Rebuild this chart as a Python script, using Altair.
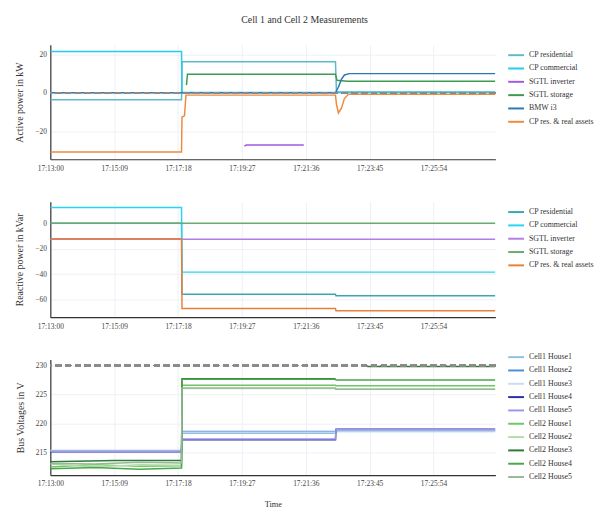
import altair as alt
import pandas as pd

# ---------------------------------------------------------------
# Time axis: seconds after 17:13:00
# ---------------------------------------------------------------
T_MAX = 899
X_TICKS = [0, 129, 258, 387, 516, 645, 774]

# ---------------------------------------------------------------
# Active power (kW)
# ---------------------------------------------------------------
P_NAMES = ["CP residential", "CP commercial", "SGTL inverter",
           "SGTL storage", "BMW i3", "CP res. & real assets"]
P_COLORS = ["#5fb9c9", "#25cbe6", "#a259e0", "#3d9b4f", "#2a7ab8", "#ee8a3e"]

p_cp_res_t = [0, 265, 266, 576, 578, 899]
p_cp_res_v = [-3.6, -3.6, 16.2, 16.2, 0.4, 0.4]
p_cp_com_t = [0, 265, 266, 899]
p_cp_com_v = [21.5, 21.5, 0.2, 0.2]
p_sgtl_inv_t = [392, 396, 512]
p_sgtl_inv_v = [-27.8, -27.2, -27.2]
p_sgtl_sto_t = [275, 277, 576, 579, 600, 899]
p_sgtl_sto_v = [4.0, 9.7, 9.7, 6.5, 6.0, 6.0]
p_bmw_t = [0, 576, 582, 588, 594, 604, 899]
p_bmw_v = [0.0, 0.0, 3.0, 7.0, 9.3, 10.0, 10.0]
p_cp_real_t = [0, 265, 266, 271, 274, 576, 578, 582, 588, 594, 602, 899]
p_cp_real_v = [-30.8, -30.8, -12.6, -12.0, -1.2, -1.2, -6.0, -10.5, -8.0, -3.0, -0.8, -0.8]

# ---------------------------------------------------------------
# Reactive power (kVar)
# ---------------------------------------------------------------
Q_NAMES = ["CP residential", "CP commercial", "SGTL inverter",
           "SGTL storage", "CP res. & real assets"]
Q_COLORS = ["#3aa6b4", "#2ad4f0", "#b07ee6", "#6aaa72", "#e8803a"]

q_cp_res_t = [0, 265, 266, 576, 577, 899]
q_cp_res_v = [0.0, 0.0, -55.9, -55.9, -57.2, -57.2]
q_cp_com_t = [0, 265, 266, 899]
q_cp_com_v = [12.5, 12.5, -38.5, -38.5]
q_sgtl_inv_t = [0, 899]
q_sgtl_inv_v = [-12.6, -12.6]
q_sgtl_sto_t = [0, 899]
q_sgtl_sto_v = [0.0, 0.0]
q_cp_real_t = [0, 265, 266, 576, 577, 899]
q_cp_real_v = [-12.2, -12.2, -67.1, -67.1, -68.9, -68.9]

# ---------------------------------------------------------------
# Bus voltages (V)
# ---------------------------------------------------------------
V_NAMES = ["Cell1 House1", "Cell1 House2", "Cell1 House3", "Cell1 House4", "Cell1 House5",
           "Cell2 House1", "Cell2 House2", "Cell2 House3", "Cell2 House4", "Cell2 House5"]
V_COLORS = ["#8dc2e2", "#4b8fdc", "#c9dcf0", "#2c2ca8", "#9a98e4",
            "#6cc860", "#b2dca8", "#2f7a32", "#4aa64a", "#96b896"]

v_step_t = [0, 265, 266, 576, 577, 899]
v_c1h1 = [215.3, 215.3, 218.3, 218.3, 218.6, 218.6]
v_c1h2 = [215.2, 215.2, 218.6, 218.6, 218.8, 218.8]
v_c1h3 = [215.4, 215.4, 218.5, 218.5, 218.7, 218.7]
v_c1h4 = [215.1, 215.1, 217.2, 217.2, 219.0, 219.0]
v_c1h5 = [215.2, 215.2, 217.3, 217.3, 218.9, 218.9]

v_wave_t = [0, 90, 180, 265, 266, 576, 577, 899]
v_c2h1 = [212.5, 212.9, 212.6, 212.7, 226.6, 226.6, 226.5, 226.5]
v_c2h2 = [213.0, 212.5, 212.9, 212.8, 226.0, 226.0, 225.9, 225.9]
v_c2h4 = [212.2, 212.4, 212.1, 212.3, 227.6, 227.6, 227.5, 227.5]
v_c2h5 = [213.1, 213.0, 213.3, 213.2, 226.1, 226.1, 225.9, 225.9]
v_c2h3_t = [0, 130, 265, 266, 576, 600, 640, 899]
v_c2h3 = [213.4, 213.6, 213.6, 227.7, 227.7, None, 229.8, 229.8]

V_LIMIT = 230

FONT = "Liberation Serif"


def build(series):
    """Long table of (series, segment, t, value); a None value starts a new segment."""
    rows = []
    for name, ts, vs in series:
        seg = 0
        for t, v in zip(ts, vs):
            if v is None:
                seg += 1
                continue
            rows.append({"name": name, "seg": f"{name}#{seg}", "t": t, "v": v, "k": len(rows)})
    return pd.DataFrame(rows)


p_df = build([
    ("CP residential", p_cp_res_t, p_cp_res_v),
    ("CP commercial", p_cp_com_t, p_cp_com_v),
    ("SGTL inverter", p_sgtl_inv_t, p_sgtl_inv_v),
    ("SGTL storage", p_sgtl_sto_t, p_sgtl_sto_v),
    ("BMW i3", p_bmw_t, p_bmw_v),
    ("CP res. & real assets", p_cp_real_t, p_cp_real_v),
])
q_df = build([
    ("CP residential", q_cp_res_t, q_cp_res_v),
    ("CP commercial", q_cp_com_t, q_cp_com_v),
    ("SGTL inverter", q_sgtl_inv_t, q_sgtl_inv_v),
    ("SGTL storage", q_sgtl_sto_t, q_sgtl_sto_v),
    ("CP res. & real assets", q_cp_real_t, q_cp_real_v),
])
v_df = build([
    ("Cell1 House1", v_step_t, v_c1h1),
    ("Cell1 House2", v_step_t, v_c1h2),
    ("Cell1 House3", v_step_t, v_c1h3),
    ("Cell1 House4", v_step_t, v_c1h4),
    ("Cell1 House5", v_step_t, v_c1h5),
    ("Cell2 House1", v_wave_t, v_c2h1),
    ("Cell2 House2", v_wave_t, v_c2h2),
    ("Cell2 House3", v_c2h3_t, v_c2h3),
    ("Cell2 House4", v_wave_t, v_c2h4),
    ("Cell2 House5", v_wave_t, v_c2h5),
])

TIME_LABEL = "timeFormat(datetime(2024, 0, 1, 17, 13, datum.value), '%H:%M:%S')"


def panel(df, names, colors, ytitle, ydomain, yticks, height, legend_y,
          xtitle=None, ref=None):
    yscale = alt.Scale(domain=ydomain, nice=False, zero=False)
    yaxis = alt.Axis(values=yticks, title=ytitle, labelOverlap=False,
                     labelPadding=4, titlePadding=10)
    x = alt.X("t:Q",
              scale=alt.Scale(domain=[0, T_MAX], nice=False, zero=False),
              axis=alt.Axis(values=X_TICKS, labelExpr=TIME_LABEL, title=xtitle,
                            labelFlush=False, labelPadding=5, titlePadding=12,
                            titleFontSize=8.5))
    lines = alt.Chart(df).mark_line(strokeWidth=1.5, clip=True).encode(
        x=x,
        y=alt.Y("v:Q", scale=yscale, axis=yaxis),
        color=alt.Color("name:N",
                        scale=alt.Scale(domain=names, range=colors),
                        legend=alt.Legend(title=None, orient="none",
                                          legendX=463, legendY=legend_y,
                                          symbolType="stroke", symbolSize=256,
                                          symbolStrokeWidth=2, labelFont=FONT,
                                          labelFontSize=8, labelColor="#333",
                                          rowPadding=0.5, padding=0, labelOffset=4)),
        detail="seg:N",
        order="k:Q",
    )
    layers = [lines]
    if ref is not None:
        layers.append(
            alt.Chart(df).mark_rule(color="#8a8a8a", strokeWidth=1.5, strokeDash=[6, 4])
            .encode(y=alt.YDatum(ref, scale=yscale, axis=yaxis))
        )
    return alt.layer(*layers).properties(width=451, height=height)


top = panel(p_df, P_NAMES, P_COLORS, "Active power in kW", [-34.6, 25.0],
            [-20, 0, 20], 116, 1.5, ref=0)
mid = panel(q_df, Q_NAMES, Q_COLORS, "Reactive power in kVar", [-74.0, 17.0],
            [-60, -40, -20, 0], 117, 1.5)
bot = panel(v_df, V_NAMES, V_COLORS, "Bus Voltages in V", [211.1, 231.0],
            [215, 220, 225, 230], 117, -11.5, xtitle="Time", ref=V_LIMIT)

chart = (
    alt.vconcat(top, mid, bot, spacing=43, bounds="flush")
    .resolve_scale(color="independent")
    .resolve_legend(color="independent")
    .properties(
        title=alt.TitleParams("Cell 1 and Cell 2 Measurements", font=FONT, fontSize=10,
                              fontWeight="normal", color="#333", anchor="middle",
                              frame="bounds", offset=20),
        padding={"left": 15, "top": 12, "right": 5, "bottom": 0},
    )
    .configure_view(strokeWidth=0)
    .configure_axis(labelFont=FONT, labelFontSize=7.5, labelColor="#444",
                    titleFont=FONT, titleFontSize=10, titleFontWeight="normal",
                    titleColor="#333", gridColor="#edf0f6", domainColor="#333",
                    domainWidth=1.2, ticks=False)
)

chart.save("out.html", embed_options={"renderer": "svg", "actions": False})
